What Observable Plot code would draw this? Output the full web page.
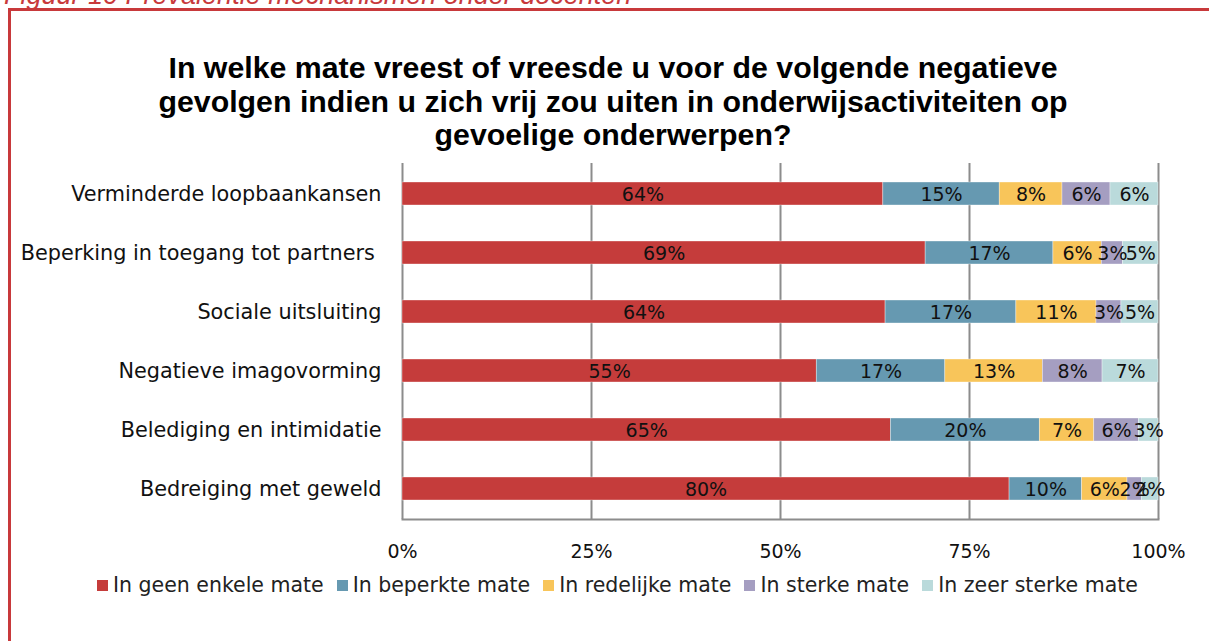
<!DOCTYPE html>
<html><head><meta charset="utf-8">
<script src="https://cdn.jsdelivr.net/npm/d3@7"></script>
<script src="https://cdn.jsdelivr.net/npm/@observablehq/plot@0.6"></script>
<style>
body{margin:0;width:1209px;height:641px;overflow:hidden;background:#fff;position:relative;font-family:"DejaVu Sans",sans-serif;}
#cap{position:absolute;left:4px;top:-20px;color:#c8393b;font-style:italic;font-size:27px;font-family:"Liberation Sans",Arial,sans-serif;white-space:nowrap;}
#frame{position:absolute;left:8px;top:8px;width:1300px;height:700px;border-left:3px solid #c8393b;border-top:3px solid #c8393b;}
#title{position:absolute;left:63px;width:1100px;top:51px;text-align:center;font-family:"Liberation Sans",Arial,sans-serif;font-weight:bold;font-size:30.3px;line-height:33.5px;color:#000;white-space:nowrap;}
#chart{position:absolute;left:0;top:150px;}
#legend{position:absolute;left:97px;top:573px;display:flex;align-items:center;font-size:20.5px;color:#222;white-space:nowrap;}
#legend .it{display:flex;align-items:center;margin-right:13px;}
#legend .sw{width:11px;height:11px;margin-right:5px;}
</style></head>
<body>
<div id="cap">Figuur 10 Prevalentie mechanismen onder docenten</div>
<div id="frame"></div>
<div id="title">In welke mate vreest of vreesde u voor de volgende negatieve<br>gevolgen indien u zich vrij zou uiten in onderwijsactiviteiten op<br>gevoelige onderwerpen?</div>
<div id="chart"></div>
<div id="legend"></div>
<script>
const categories = ["Verminderde loopbaankansen", "Beperking in toegang tot partners\u00A0", "Sociale uitsluiting", "Negatieve imagovorming", "Belediging en intimidatie", "Bedreiging met geweld"];
const series = ["In geen enkele mate", "In beperkte mate", "In redelijke mate", "In sterke mate", "In zeer sterke mate"];
const geenEnkele = [63.6, 69.2, 63.9, 54.8, 64.6, 80.3];
const beperkt = [15.4, 16.9, 17.3, 17.0, 19.7, 9.6];
const redelijk = [8.3, 6.4, 10.6, 12.9, 7.2, 6.0];
const sterk = [6.35, 2.8, 3.3, 7.9, 5.9, 1.9];
const zeerSterk = [6.35, 4.7, 4.9, 7.4, 2.6, 2.2];
const xTicks = [0, 25, 50, 75, 100];
const colors = ["#c53c3b", "#6699b1", "#f8c55a", "#a59ec1", "#badadb"];

const seriesValues = [geenEnkele, beperkt, redelijk, sterk, zeerSterk];
const data = [];
series.forEach((s, si) => categories.forEach((c, ci) => data.push({cat: c, series: s, value: seriesValues[si][ci]})));

const chart = Plot.plot({
  width: 1209,
  height: 420,
  marginLeft: 402,
  marginRight: 51,
  marginTop: 13,
  marginBottom: 51,
  style: {fontFamily: "DejaVu Sans, sans-serif", color: "#000", background: "transparent"},
  x: {domain: [0, 100]},
  y: {domain: categories, paddingInner: 0.61, paddingOuter: 0.305},
  color: {domain: series, range: colors},
  marks: [
    Plot.ruleX(xTicks, {stroke: "#8c8c8c", strokeWidth: 2}),
    Plot.frame({anchor: "bottom", stroke: "#8c8c8c", strokeWidth: 2}),
    Plot.barX(data, Plot.stackX({x: "value", y: "cat", fill: "series", order: null, stroke: "#fff", strokeOpacity: 0.5, strokeWidth: 0.7})),
    Plot.text(data, Plot.stackX({x: "value", y: "cat", z: "series", order: null, text: d => Math.round(d.value) + "%", fill: "#111", fontSize: 19, fontFamily: "DejaVu Sans, sans-serif", dy: 1})),
    Plot.axisY({tickSize: 0, tickPadding: 21, fontSize: 20.8, label: null, fill: "#111"}),
    Plot.axisX({ticks: xTicks, tickSize: 0, tickPadding: 25, tickFormat: d => d + "%", fontSize: 19, label: null, fill: "#111"})
  ]
});
document.getElementById("chart").appendChild(chart);

const legend = document.getElementById("legend");
series.forEach((s, i) => {
  const it = document.createElement("div"); it.className = "it";
  const sw = document.createElement("div"); sw.className = "sw"; sw.style.background = colors[i];
  const t = document.createElement("span"); t.textContent = s;
  it.appendChild(sw); it.appendChild(t); legend.appendChild(it);
});
</script>
</body></html>
